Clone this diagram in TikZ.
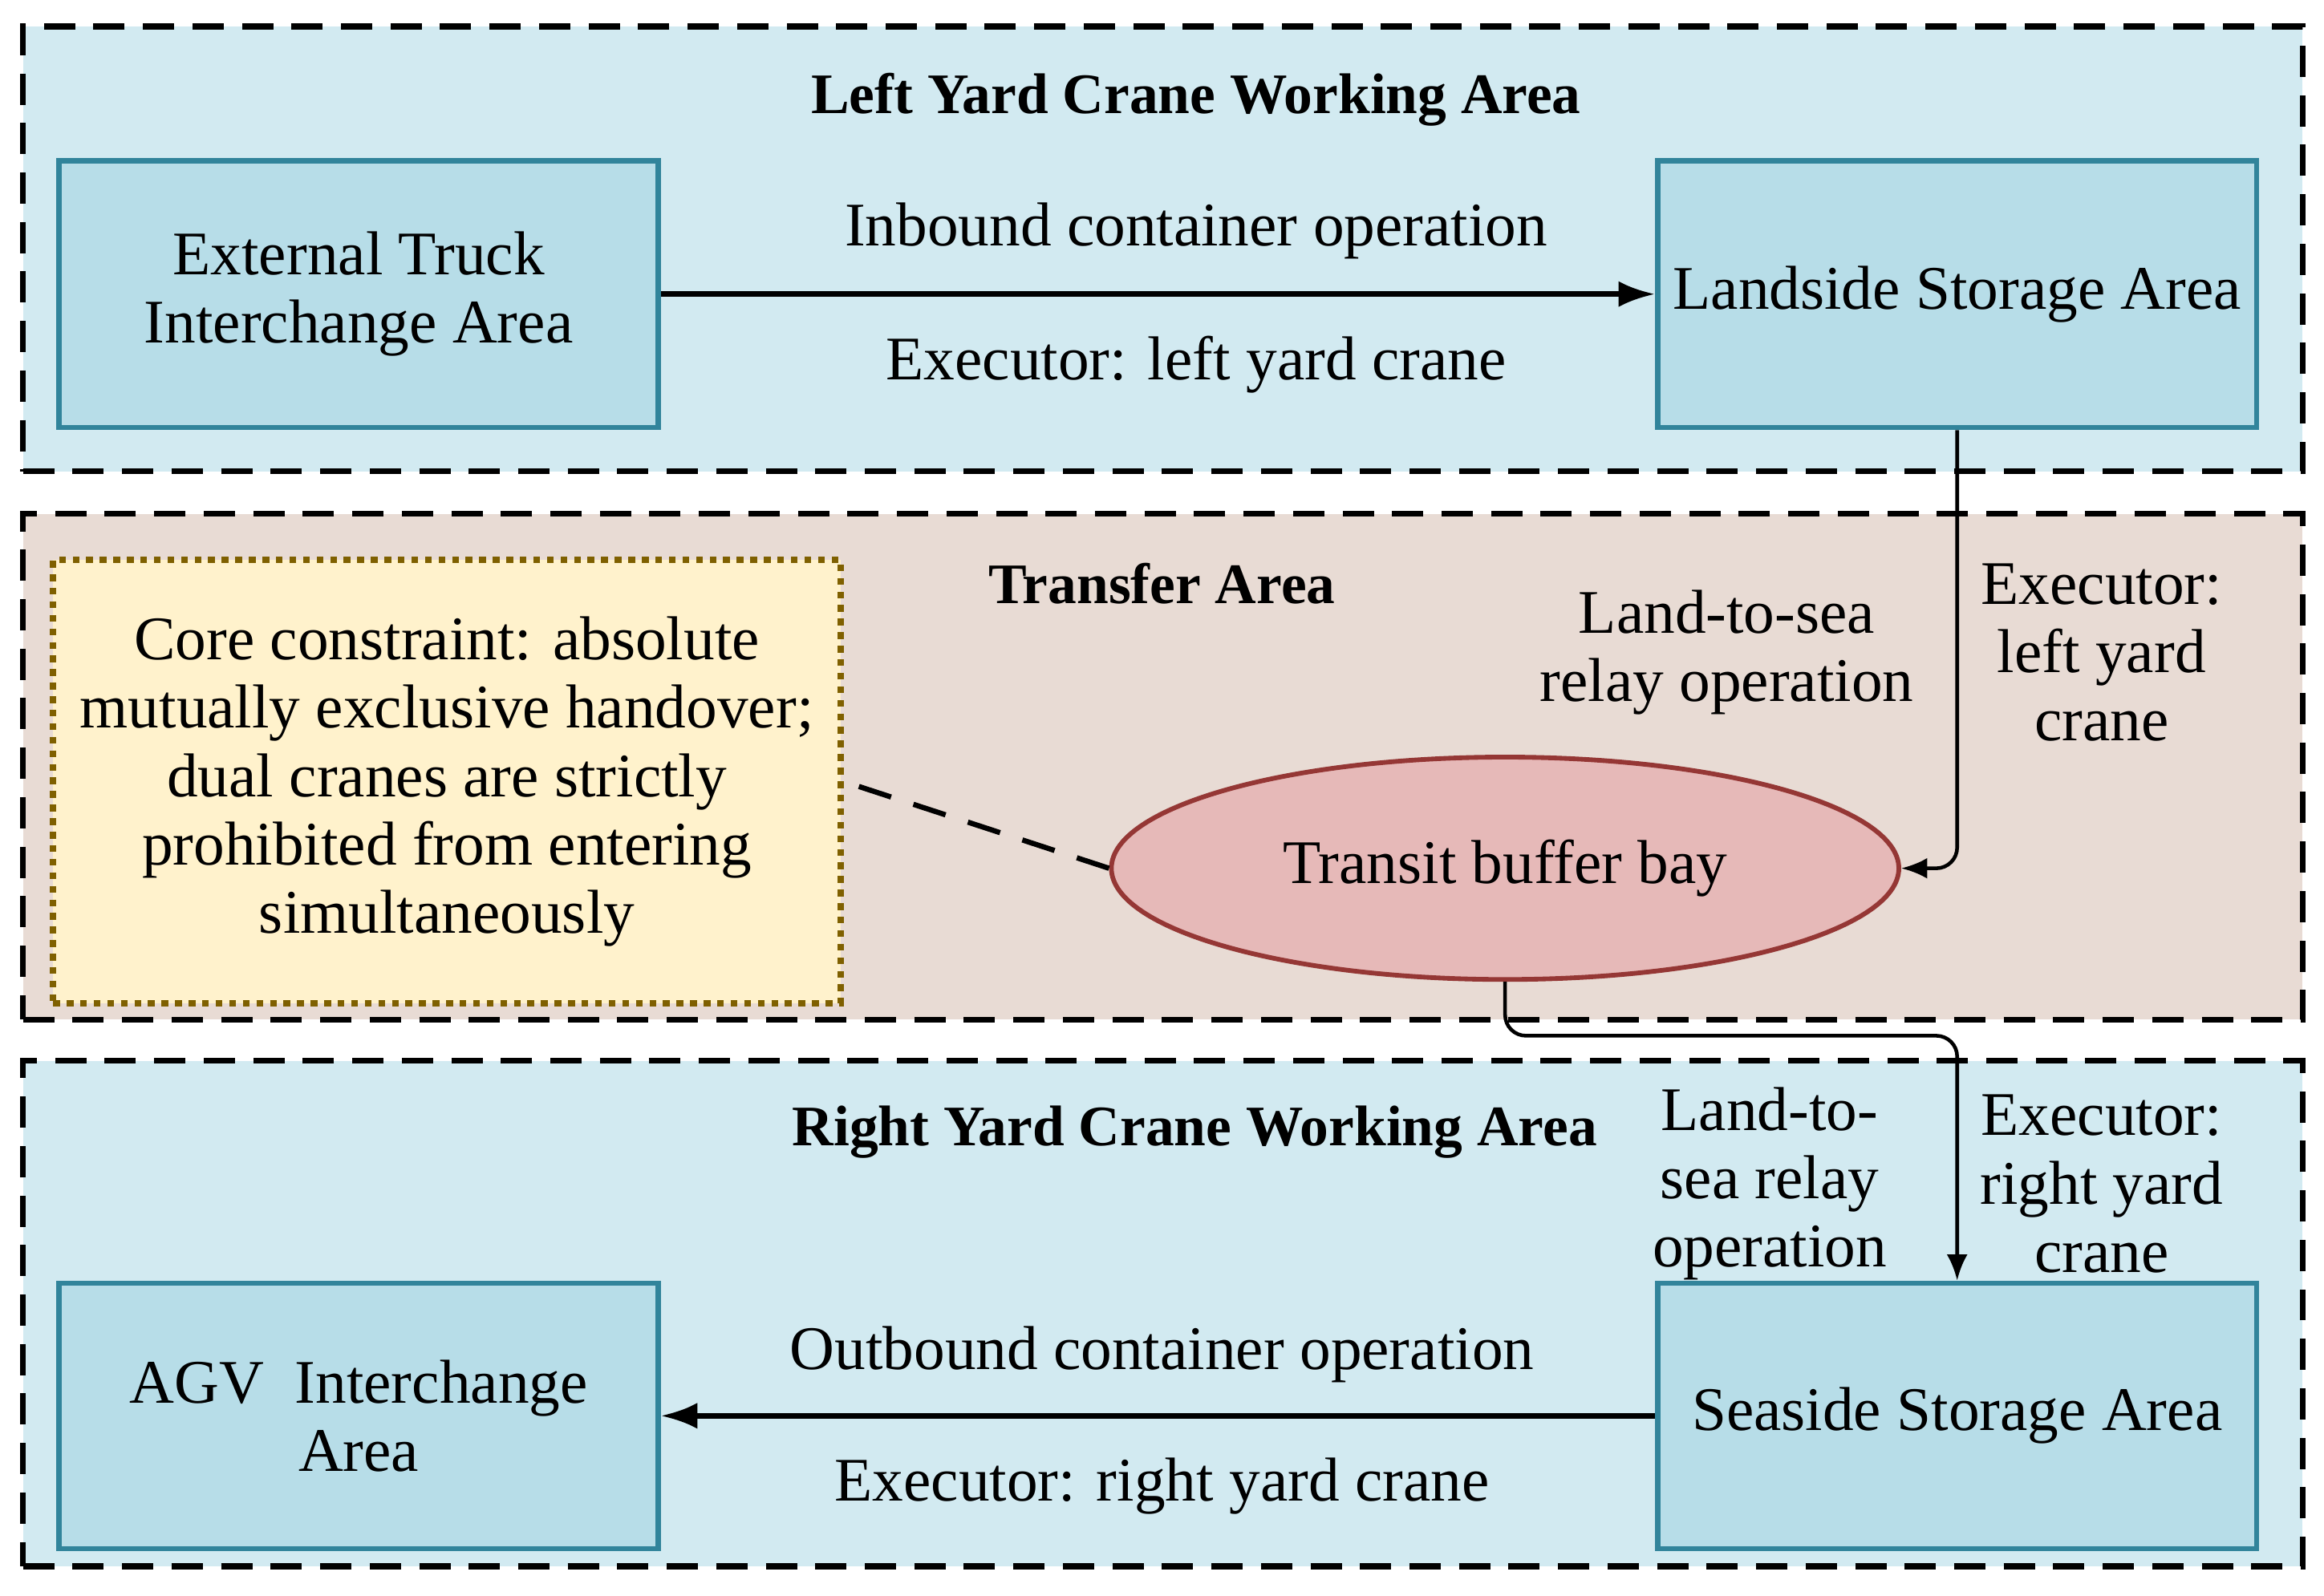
\documentclass[tikz,border=0pt]{standalone}
\usepackage{fontspec}
\setmainfont{Liberation Serif}
\usetikzlibrary{shapes.geometric,arrows.meta}
\definecolor{zoneblue}{HTML}{D2EAF1}
\definecolor{boxblue}{HTML}{B7DDE8}
\definecolor{boxedge}{HTML}{31849B}
\definecolor{zonebeige}{HTML}{E8DBD4}
\definecolor{bayfill}{HTML}{E6B9B8}
\definecolor{bayedge}{HTML}{953735}
\definecolor{notefill}{HTML}{FFF2CC}
\definecolor{noteedge}{HTML}{7F6000}
\newcommand\regtxt{\fontsize{11.9pt}{13.1pt}\selectfont}
\newcommand\boldtxt{\fontsize{11pt}{13pt}\selectfont\bfseries}
\begin{document}
\begin{tikzpicture}[x=0.01cm,y=-0.01cm,
  zone/.style={draw=black, line width=1.1pt, dash pattern=on 6pt off 3.5pt,
    inner sep=0pt, minimum width=15.37cm},
  areabox/.style={draw=boxedge, fill=boxblue, line width=1pt,
    minimum width=4.04cm, minimum height=1.8cm, align=center, inner sep=0pt, font=\regtxt},
  lbl/.style={align=center, inner sep=0pt, font=\regtxt, yshift=-0.85pt},
  ttl/.style={align=center, inner sep=0pt, font=\boldtxt, yshift=-0.85pt},
  mainarrow/.style={draw=black, line width=1pt, -{Latex[length=7pt,width=5pt]}},
  relay/.style={draw=black, line width=0.7pt, rounded corners=4pt, -{Latex[length=5pt,width=4pt]}},
  notelink/.style={draw=black, line width=1pt, dash pattern=on 6.5pt off 4.5pt}
]
\useasboundingbox (0,0) rectangle (1568,1077);

% zones
\node[zone, fill=zoneblue, minimum height=3cm] (ztop) at (784.5,168) {};
\node[zone, fill=zonebeige, minimum height=3.41cm] (zmid) at (784.5,517.5) {};
\node[zone, fill=zoneblue, minimum height=3.41cm] (zbot) at (784.5,886.5) {};

% titles
\node[ttl] (t1) at (807,64) {Left Yard Crane Working Area};
\node[ttl] (t2) at (784,391) {Transfer Area};
\node[ttl] (t3) at (806,761) {Right Yard Crane Working Area};

% area boxes
\node[areabox] (ext) at (242,198.5) {External Truck\\Interchange Area};
\node[areabox] (land) at (1320.5,198.5) {Landside Storage Area};
\node[areabox, minimum height=1.79cm] (agv) at (242,955.5) {AGV\ \ Interchange\\Area};
\node[areabox, minimum height=1.79cm] (sea) at (1320.5,955.5) {Seaside Storage Area};

% transit bay
\node[ellipse, draw=bayedge, fill=bayfill, line width=0.9pt, minimum width=5.31cm,
  minimum height=1.5cm, inner sep=0pt, font=\regtxt] (bay) at (1015.5,586) {Transit buffer bay};

% note
\node[draw=noteedge, fill=notefill, line width=1.3pt, dash pattern=on 1.3pt off 1.3pt,
  minimum width=5.31cm, minimum height=2.99cm, align=center, inner sep=0pt, font=\regtxt]
  (note) at (301.5,527.5) {Core constraint: absolute\\mutually exclusive handover;\\dual cranes are strictly\\prohibited from entering\\simultaneously};

% labels
\node[lbl] (inb) at (807,153) {Inbound container operation};
\node[lbl] (exe1) at (807,243) {Executor: left yard crane};
\node[lbl] (l2s1) at (1165,437.5) {Land-to-sea\\relay operation};
\node[lbl] (exe2) at (1418,437.5) {Executor:\\left yard\\crane};
\node[lbl] (l2s2) at (1194,796) {Land-to-\\sea relay\\operation};
\node[lbl] (exe3) at (1418,796) {Executor:\\right yard\\crane};
\node[lbl] (outb) at (784,911) {Outbound container operation};
\node[lbl] (exe4) at (784,1000) {Executor: right yard crane};

% connectors
\coordinate (jog) at (1016,699);
\draw[mainarrow] (ext.east) -- (land.west);
\draw[mainarrow] (sea.west) -- (agv.east);
\draw[relay] (land.south) |- (bay.east);
\draw[relay] (bay.south) -- (bay.south |- jog) -| (sea.north);
\draw[notelink] (bay.west) -- (note.east);
\end{tikzpicture}
\end{document}
